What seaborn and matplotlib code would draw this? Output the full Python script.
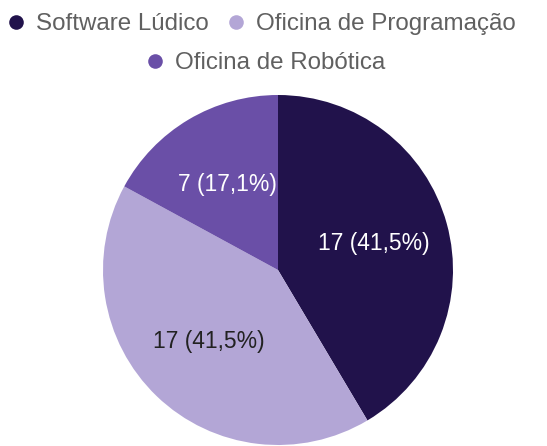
import matplotlib
matplotlib.use("Agg")
import matplotlib.pyplot as plt
from matplotlib.lines import Line2D
import seaborn as sns

# Atividades e número de respostas
categorias = ["Software Lúdico", "Oficina de Programação", "Oficina de Robótica"]
respostas = [17, 17, 7]
cores = ["#21124b", "#b3a6d6", "#6a4fa7"]
cores_texto = ["white", "#222222", "white"]

sns.set_theme(style="white")
plt.rcParams["font.family"] = ["Liberation Sans", "DejaVu Sans"]

fig = plt.figure(figsize=(5.47, 4.46), dpi=100)
ax = fig.add_axes([103 / 547, 1 / 446, 350 / 547, 350 / 446])

total = sum(respostas)


def rotulo(pct):
    n = int(round(pct * total / 100))
    return f"{n} ({pct:.1f}%)".replace(".", ",")


wedges, textos, autotextos = ax.pie(
    respostas,
    colors=cores,
    startangle=90,
    counterclock=False,
    autopct=rotulo,
    pctdistance=0.57,
    wedgeprops=dict(linewidth=0),
    textprops=dict(fontsize=16.5),
)
for t, c in zip(autotextos, cores_texto):
    t.set_color(c)
ax.set_xlim(-1, 1)
ax.set_ylim(-1, 1)
ax.set_aspect("equal")
ax.axis("off")


def marcador(cor):
    return Line2D([], [], linestyle="none", marker="o", markersize=10.5,
                  markerfacecolor=cor, markeredgewidth=0)


estilo = dict(frameon=False, fontsize=17.4, handlelength=0.8,
              handletextpad=0.42, columnspacing=0.75, labelcolor="#606060",
              borderpad=0, borderaxespad=0)

fig.legend([marcador(cores[0]), marcador(cores[1])], categorias[:2],
           loc="center", bbox_to_anchor=(261 / 547, 1 - 24 / 446), ncol=2,
           **estilo)
fig.legend([marcador(cores[2])], categorias[2:],
           loc="center", bbox_to_anchor=(265 / 547, 1 - 63 / 446), ncol=1,
           **estilo)

fig.savefig("out.png", dpi=100)
